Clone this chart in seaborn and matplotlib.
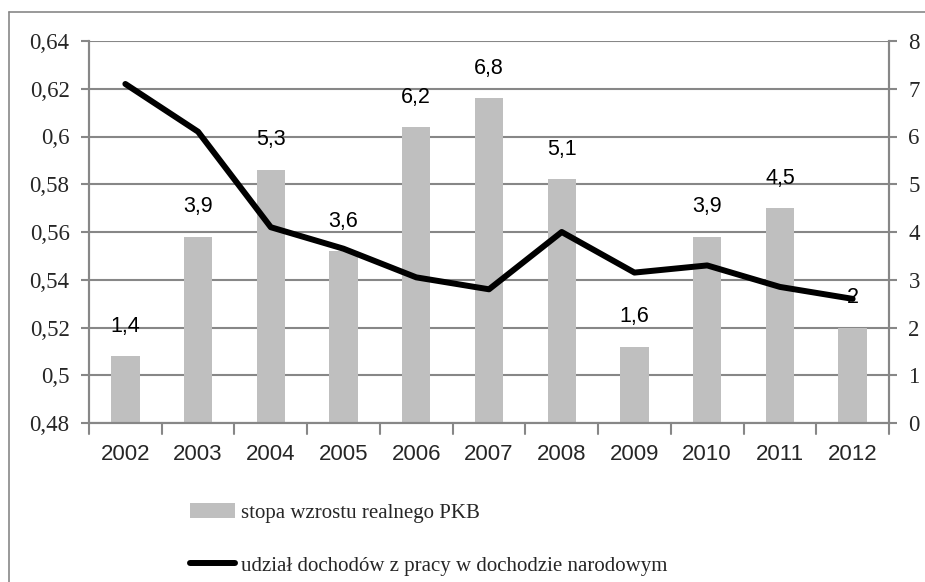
import numpy as np
import pandas as pd
import matplotlib
matplotlib.use("Agg")
import matplotlib.pyplot as plt
from matplotlib.lines import Line2D
from matplotlib.patches import Patch
import seaborn as sns

years = ["2002", "2003", "2004", "2005", "2006", "2007", "2008", "2009", "2010", "2011", "2012"]
gdp_growth = [1.4, 3.9, 5.3, 3.6, 6.2, 6.8, 5.1, 1.6, 3.9, 4.5, 2.0]
gdp_labels = ["1,4", "3,9", "5,3", "3,6", "6,2", "6,8", "5,1", "1,6", "3,9", "4,5", "2"]
labour_share = [0.622, 0.602, 0.562, 0.553, 0.541, 0.536, 0.560, 0.543, 0.546, 0.537, 0.532]
left_ticks = [0.48, 0.50, 0.52, 0.54, 0.56, 0.58, 0.60, 0.62, 0.64]
left_tick_labels = ["0,48", "0,5", "0,52", "0,54", "0,56", "0,58", "0,6", "0,62", "0,64"]
right_ticks = [0, 1, 2, 3, 4, 5, 6, 7, 8]
bar_name = "stopa wzrostu realnego PKB"
line_name = "udział dochodów z pracy w dochodzie narodowym"

df = pd.DataFrame({"year": years, "pos": np.arange(len(years)),
                   "gdp": gdp_growth, "share": labour_share})

sns.set_style("white")
plt.rcParams["font.family"] = ["Liberation Serif", "DejaVu Serif"]

GRID = "#878787"
BAR = "#BFBFBF"

fig = plt.figure(figsize=(9.25, 5.82), dpi=100)
ax = fig.add_axes([89 / 925, 1 - 423 / 582, (889 - 89) / 925, (423 - 41) / 582])

sns.barplot(data=df, x="year", y="gdp", color=BAR, width=0.39, ax=ax,
            saturation=1, edgecolor="none", linewidth=0)
ax.set_ylim(0, 8)
ax.set_xlim(-0.5, len(years) - 0.5)
ax.set_xlabel("")
ax.set_ylabel("")
ax.grid(axis="y", color=GRID, linewidth=1.5)
ax.set_axisbelow(True)
ax.bar_label(ax.containers[0], labels=gdp_labels, padding=14,
             fontsize=15.5, family="Liberation Sans", color="black")

ax.set_xticks(np.arange(len(years)))
ax.set_xticklabels(years, fontsize=16, family="Liberation Sans")
ax.tick_params(axis="x", length=0, pad=15)
for b in np.arange(len(years) + 1) - 0.5:
    ax.plot([b, b], [0, -0.22], color=GRID, lw=1.5, clip_on=False)

ax2 = ax.twinx()
sns.lineplot(data=df, x="pos", y="share", color="black", linewidth=4.3, ax=ax2)
ax2.set_ylim(0.48, 0.64)
ax2.set_xlabel("")
ax2.set_ylabel("")
ax2.set_xlim(-0.5, len(years) - 0.5)

# right axis for bars, left axis for line
ax.yaxis.tick_right()
ax.yaxis.set_label_position("right")
ax.set_yticks(right_ticks)
ax.set_yticklabels([str(t) for t in right_ticks])
ax2.yaxis.tick_left()
ax2.yaxis.set_label_position("left")
ax2.set_yticks(left_ticks)
ax2.set_yticklabels(left_tick_labels)
for a in (ax, ax2):
    a.tick_params(axis="y", labelsize=16.5, length=6, width=1.5, color=GRID, pad=8)
    a.spines["top"].set_visible(False)
    for s in ("left", "right", "bottom"):
        a.spines[s].set_color(GRID)
        a.spines[s].set_linewidth(1.5)

handles = [Patch(facecolor=BAR, edgecolor="none"),
           Line2D([0], [0], color="black", linewidth=4.3)]
fig.legend(handles, [bar_name, line_name], loc="upper left",
           bbox_to_anchor=(190 / 925, 1 - 503 / 582), frameon=False,
           fontsize=15, handlelength=2.15, handletextpad=0.3,
           labelspacing=1.6, borderaxespad=0, borderpad=0)

# outer frame (left and top edges visible)
fig.add_artist(Line2D([8.5 / 925, 8.5 / 925], [0, 1 - 12 / 582], color=GRID, lw=1.2,
                      transform=fig.transFigure))
fig.add_artist(Line2D([8.5 / 925, 1], [1 - 12 / 582, 1 - 12 / 582], color=GRID, lw=1.2,
                      transform=fig.transFigure))

fig.savefig("out.png", dpi=100)
